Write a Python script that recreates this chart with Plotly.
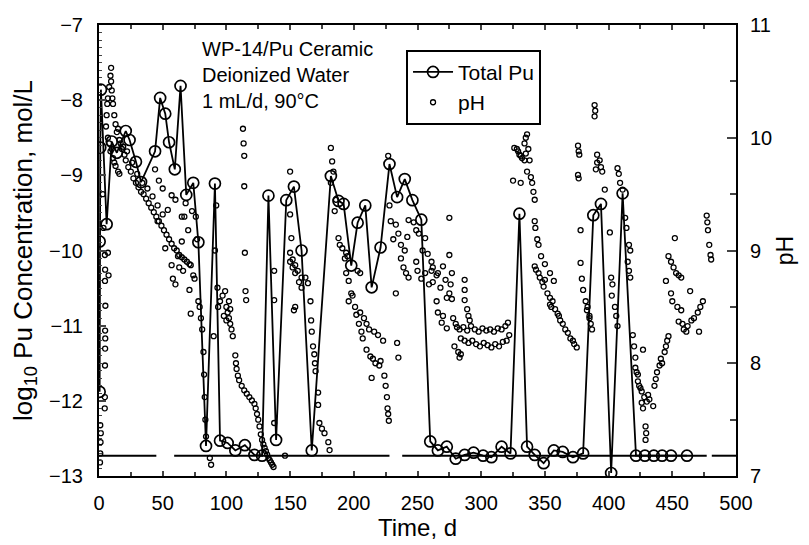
import plotly.graph_objects as go

# ---------------- data ----------------
pu_days = [0.5, 0.5, 1.0, 1.5, 6, 10, 14, 21, 24, 29, 33, 44, 48, 52, 55, 59.5, 64,
           68.5, 74, 78, 84, 91, 95, 101, 107, 114.5, 122, 128, 133, 139, 147, 153,
           159, 167, 182, 188, 192, 198, 203, 209, 214, 221, 228, 234, 240, 246,
           253, 260, 266, 273, 280, 287, 294, 301.5, 308, 316, 323, 330, 336, 342,
           349, 357, 364, 372, 380, 388, 394, 402, 411, 421.5, 428.5, 435.5, 442,
           449, 461.5]
pu_logc = [-11.88, -9.88, -8.63, -7.86, -9.65, -8.55, -8.7, -8.41, -8.53, -8.82,
           -9.09, -8.68, -7.97, -8.18, -8.56, -8.92, -7.81, -9.26, -9.1, -9.89,
           -12.6, -9.11, -12.53, -12.56, -12.66, -12.59, -12.72, -12.73, -9.27,
           -12.52, -9.33, -9.15, -10.0, -12.66, -9.01, -9.34, -9.38, -10.2, -9.63,
           -9.4, -10.49, -9.96, -8.85, -9.29, -9.05, -9.33, -9.59, -12.54, -12.66,
           -12.61, -12.77, -12.72, -12.69, -12.73, -12.75, -12.61, -12.7, -9.51,
           -12.61, -12.72, -12.83, -12.66, -12.68, -12.75, -12.7, -9.53, -9.38,
           -12.96, -9.24, -12.73, -12.73, -12.73, -12.73, -12.73, -12.73]

ph_days = [
    # days 0-5
    0.8, 1.0, 1.2, 1.4, 1.0, 4.5, 4.6, 4.7, 4.8, 4.9, 4.8, 5.0, 4.7, 4.8, 4.6, 3.5, 3.0,
    # days 5-20
    5.5, 6, 6.5, 7, 8, 9, 9.5, 9.5, 10, 10.5, 11, 12, 13, 14, 15, 16, 17, 18, 19, 20,
    7, 8, 9, 10, 11, 12, 13, 15, 16, 7, 7.5,
    # days 20-80 band
    21, 23, 25, 27, 29, 31, 33, 35, 37, 39, 41, 43, 45, 47, 49, 51, 53, 55, 57, 59,
    61, 63, 65, 67, 69, 71, 22, 26, 30, 34, 38, 42, 46, 50,
    44, 47, 50, 54, 57, 60, 65, 67, 46, 52, 57, 62, 65, 70, 72, 74, 58, 60, 63, 66,
    71, 72, 75, 78, 79, 80, 77, 76, 73, 68,
    # days 80-110
    81, 82, 82.5, 83, 83.5, 84, 87, 88, 90, 91, 92, 93, 93.5,
    95, 97, 99, 100, 101, 102, 103, 104, 105, 98, 100, 102, 103,
    113, 113.5, 114, 114, 114.5, 115, 115.5, 107, 107.5, 108, 109,
    # days 110-137 line
    110, 112, 114, 116, 118, 120, 122, 123, 124, 125, 126, 127, 128, 129, 130, 131,
    132, 133, 134, 135, 136, 137,
    # days 137-182
    137.5, 137.5, 137.5, 146, 150, 150, 151, 150, 152, 154, 156, 159, 162, 150, 152,
    154, 157, 159, 164, 153, 154, 166, 166.5, 167, 168, 169, 169.5, 170, 172, 172,
    173, 175, 177, 180, 181,
    # days 182-230
    182, 183, 184, 182, 186, 185, 188, 189, 191, 194, 195, 203, 205,
    193, 194, 196, 198, 196, 199, 201, 205, 208, 210, 212, 216, 219, 223,
    202, 204, 206, 207, 210, 213, 215, 217, 220, 221, 214, 224, 225, 226, 226.5,
    227, 227.5,
    # days 227-280
    227, 228, 229, 231, 233, 235, 233, 234, 235, 237, 240, 242, 243, 247, 249, 251,
    256, 254, 258, 261, 261, 262, 266, 270, 275, 275,
    237, 239, 241, 243, 249, 250, 253, 256, 259, 262, 265, 268, 272, 276, 277,
    265, 273, 275, 277, 287, 287, 287, 289, 290, 291,
    266, 269, 270, 273, 278, 280, 281, 279, 282, 283, 284,
    # days 280-322 wavy lines
    283, 286, 289, 292, 295, 298, 301, 304, 307, 310, 313, 316, 319, 321,
    284, 287, 290, 293, 296, 299, 302, 305, 308, 311, 314, 317, 320, 322,
    # days 322-375
    325, 326, 328, 329, 330, 331, 332, 334, 335, 334, 335, 336, 337, 338, 336, 339,
    340, 341, 342, 331,
    342, 343, 345, 346, 348, 350, 349, 352, 354, 356, 355, 358, 360, 361, 362, 364,
    366, 368, 370, 372, 373, 375,
    342, 342.5, 344, 345, 347, 350, 354, 357, 354,
    # days 375-420
    376, 376.5, 377, 376, 376.5, 378, 389, 389.5, 389, 391, 391, 390, 393, 394, 395,
    397, 401, 378, 379, 380, 382, 383, 385, 386, 387, 383.5, 385,
    402, 402.5, 403, 405, 406, 407, 407, 408, 409, 411, 413, 414, 416, 417,
    415, 416, 417, 419, 420, 421,
    # days 420-480
    421, 422, 423, 423, 424, 425, 426, 428, 430, 431, 432, 435, 426, 427, 427,
    429, 429.5, 429,
    436, 437, 438, 440, 441, 442, 444, 445, 446, 447,
    452, 447, 449, 451, 453, 455, 457, 445, 449, 450, 454, 457,
    455, 458, 459, 461, 462, 465, 467, 470, 472, 474, 471, 464,
    477, 477.5, 478, 479, 480, 480.5,
]
ph_vals = [
    # days 0-5
    7.12, 7.2, 7.3, 7.38, 7.45, 7.6, 7.7, 7.98, 8.13, 8.22, 8.29, 8.51, 8.73, 8.83, 8.96, 9.2, 9.5,
    # days 5-20
    10.1, 10.2, 10.3, 10.35, 10.45, 10.55, 10.62, 10.5, 10.42, 10.35, 10.3, 10.2, 10.12,
    10.05, 10.08, 9.98, 9.95, 9.9, 9.92, 9.85,
    10.0, 9.95, 9.88, 9.9, 9.82, 9.78, 9.75, 9.7, 9.68, 8.98, 8.78,
    # days 20-80 band
    9.8, 9.74, 9.7, 9.64, 9.6, 9.56, 9.52, 9.5, 9.46, 9.42, 9.38, 9.34, 9.3, 9.26, 9.22,
    9.18, 9.14, 9.1, 9.06, 9.02, 9.0, 8.96, 8.94, 8.92, 8.9, 8.88, 9.88, 9.78, 9.68,
    9.6, 9.55, 9.48, 9.4, 9.32,
    9.72, 9.62, 9.55, 9.36, 9.49, 9.45, 9.3, 9.3, 9.26, 9.02, 8.87, 8.95, 9.08, 9.18,
    8.87, 8.78, 8.75, 8.7, 8.85, 8.82, 8.65, 8.44, 8.75, 8.55, 8.5, 8.4, 9.1, 9.3, 9.35,
    9.42,
    # days 80-110
    8.3, 8.1, 7.9, 7.7, 7.5, 7.35, 7.16, 7.1, 8.24, 9.0, 9.4, 8.67, 8.5,
    8.55, 8.6, 8.64, 8.5, 8.45, 8.4, 8.35, 8.3, 8.24, 8.42, 8.38, 8.55, 8.48,
    10.08, 9.95, 9.84, 9.57, 8.98, 8.64, 8.56, 8.07, 8.0, 7.95, 7.89,
    # days 110-137 line
    7.85, 7.8, 7.76, 7.73, 7.7, 7.67, 7.64, 7.6, 7.55, 7.5, 7.44, 7.37, 7.32, 7.28,
    7.25, 7.22, 7.19, 7.16, 7.14, 7.12, 7.1, 7.08,
    # days 137-182
    8.82, 8.56, 7.47, 7.18, 9.7, 9.32, 9.11, 8.98, 8.92, 8.87, 8.82, 8.76, 8.76, 8.9,
    8.85, 8.8, 8.72, 8.67, 8.71, 8.47, 8.5, 8.55, 8.38, 8.28, 8.15, 8.08, 8.0, 7.93,
    7.74, 7.63, 7.47, 7.42, 7.38, 7.3, 7.23,
    # days 182-230
    9.91, 9.79, 9.7, 9.6, 9.45, 9.35, 9.11, 9.05, 9.02, 8.98, 8.95, 8.82, 8.8,
    8.93, 8.8, 8.73, 8.62, 8.55, 8.6, 8.5, 8.45, 8.4, 8.35, 8.3, 8.28, 8.25, 8.2,
    8.43, 8.35, 8.28, 8.22, 8.12, 8.06, 8.04, 8.0, 7.98, 8.02, 7.87, 7.89, 7.8,
    7.7, 7.6, 7.55, 7.49,
    # days 227-280
    9.84, 9.4, 9.26, 9.1, 9.23, 9.15, 8.62, 8.18, 8.05, 9.05, 9.0, 9.12, 9.27,
    9.25, 9.18, 9.15, 9.11, 9.0, 8.97, 8.9, 8.82, 8.85, 8.8, 8.86, 9.29, 8.96,
    8.93, 8.85, 8.8, 8.76, 8.9, 8.82, 8.75, 8.8, 8.7, 8.72, 8.78, 8.67, 8.74, 8.7,
    8.8, 8.55, 8.58, 8.62, 8.57, 8.74, 8.65, 8.56, 8.48, 8.42, 8.38,
    8.45, 8.36, 8.42, 8.31, 8.4, 8.35, 8.32, 8.15, 8.1, 8.05, 8.08,
    # days 280-322 wavy lines
    8.3, 8.32, 8.29, 8.33, 8.3, 8.28, 8.31, 8.29, 8.3, 8.28, 8.31, 8.3, 8.33, 8.36,
    8.22, 8.2, 8.18, 8.2, 8.17, 8.15, 8.18, 8.16, 8.14, 8.17, 8.15, 8.19, 8.2, 8.25,
    # days 322-375
    9.62, 9.91, 9.9, 9.88, 9.85, 9.84, 9.82, 9.8, 9.86, 9.95, 10.0, 10.03, 9.9, 9.8,
    9.7, 9.65, 9.6, 9.52, 9.45, 9.6,
    8.86, 8.83, 8.8, 8.76, 8.72, 8.74, 8.68, 8.62, 8.58, 8.55, 8.5, 8.48, 8.44, 8.42,
    8.38, 8.35, 8.3, 8.27, 8.22, 8.2, 8.17, 8.14,
    9.26, 9.2, 9.1, 9.05, 8.95, 8.88, 8.8, 8.73, 8.52,
    # days 375-420
    9.93, 9.88, 9.85, 9.67, 9.64, 9.18, 10.29, 10.24, 10.19, 9.85, 9.78, 9.72, 9.8,
    9.74, 9.7, 9.54, 9.16, 8.89, 8.75, 8.65, 8.55, 8.47, 8.4, 8.35, 8.3, 8.5, 8.42,
    8.76, 8.6, 8.7, 8.5, 8.42, 8.33, 9.73, 9.68, 9.6, 9.54, 9.29, 9.2, 9.05, 9.0,
    8.9, 8.82, 8.76, 8.25, 8.15, 8.05,
    # days 420-480
    7.96, 7.92, 7.9, 7.84, 7.8, 7.78, 7.75, 7.7, 7.66, 7.72, 7.68, 7.62, 7.65, 7.6,
    8.12, 7.44, 7.38, 7.32,
    7.8, 7.86, 7.92, 7.98, 8.04, 8.0, 8.1, 8.15, 8.2, 8.24,
    9.11, 8.95, 8.9, 8.85, 8.8, 8.78, 8.76, 8.73, 8.62, 8.55, 8.5, 8.47,
    8.37, 8.35, 8.3, 8.28, 8.33, 8.38, 8.4, 8.45, 8.5, 8.55, 8.28, 8.64,
    9.31, 9.25, 9.18, 9.05, 8.96, 8.92,
]

detect_x = [0, 45, None, 59, 228, None, 238, 477, None, 481, 500]
detect_y = [-12.73, -12.73, None, -12.73, -12.73, None, -12.73, -12.73, None, -12.73, -12.73]

x_ticks = [0, 50, 100, 150, 200, 250, 300, 350, 400, 450, 500]
note_lines = ["WP-14/Pu Ceramic", "Deionized Water", "1 mL/d, 90°C"]

FONT = "Liberation Sans, Arial, Helvetica, sans-serif"

fig = go.Figure()

fig.add_trace(go.Scatter(
    x=detect_x, y=detect_y, mode="lines", yaxis="y",
    line=dict(color="black", width=2), showlegend=False, hoverinfo="skip"))

fig.add_trace(go.Scatter(
    x=pu_days, y=pu_logc, mode="lines+markers", name="Total Pu", yaxis="y",
    line=dict(color="black", width=1.8),
    marker=dict(symbol="circle-open", size=11, color="black", line=dict(width=1.7))))

fig.add_trace(go.Scatter(
    x=ph_days, y=ph_vals, mode="markers", name="pH", yaxis="y2",
    marker=dict(symbol="circle-open", size=5, color="black", line=dict(width=1.3))))

fig.update_layout(
    width=809, height=545,
    margin=dict(l=91, r=81, t=17, b=77, autoexpand=False),
    paper_bgcolor="white", plot_bgcolor="white",
    font=dict(family=FONT, size=20, color="black"),
    showlegend=True,
    legend=dict(x=0.482, y=0.945, xanchor="left", yanchor="top",
                bordercolor="black", borderwidth=2, bgcolor="white",
                font=dict(size=21), tracegroupgap=0, itemwidth=40),
    xaxis=dict(range=[0, 500], tickvals=x_ticks, ticks="inside", ticklen=5,
               tickwidth=1.5, showline=True, linewidth=2, linecolor="black",
               mirror="ticks", showgrid=False, zeroline=False, automargin=False,
               minor=dict(dtick=25, ticks="inside", ticklen=4, tickwidth=1.5),
               ticklabelstandoff=8,
               title=dict(text="Time, d", font=dict(size=24), standoff=4)),
    yaxis=dict(range=[-13, -7], dtick=1, ticks="inside", ticklen=7, tickwidth=1.5,
               showline=True, linewidth=2, linecolor="black", mirror=False,
               showgrid=False, zeroline=False, automargin=False,
               minor=dict(dtick=0.1, ticks="inside", ticklen=3, tickwidth=1),
               ticklabelstandoff=10,
               title=dict(text="log<sub>10</sub> Pu Concentration, mol/L",
                          font=dict(size=26), standoff=10)),
    yaxis2=dict(range=[7, 11], dtick=1, overlaying="y", side="right",
                ticks="inside", ticklen=9, tickwidth=1.5, showline=True,
                linewidth=2, linecolor="black", showgrid=False, zeroline=False,
                automargin=False,
                minor=dict(dtick=0.5, ticks="inside", ticklen=6, tickwidth=1.5),
                ticklabelstandoff=8,
                title=dict(text="pH", font=dict(size=23), standoff=6)),
    annotations=[dict(text="<br>".join(note_lines), xref="paper", yref="paper",
                      x=0.1586, y=0.976, xanchor="left", yanchor="top",
                      align="left", showarrow=False, font=dict(size=20))],
)

fig.write_html("out.html")
